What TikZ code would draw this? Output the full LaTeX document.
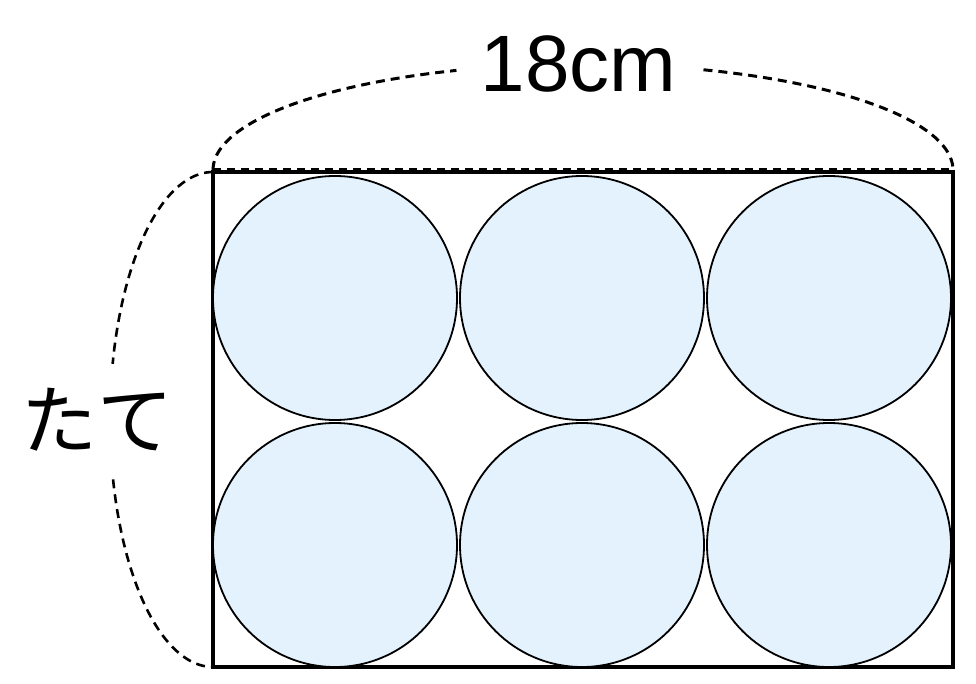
\documentclass[tikz,border=0pt]{standalone}
\usepackage{fontspec}
\setmainfont{Liberation Sans}
\newfontfamily\jpfont{Noto Sans CJK JP}
\definecolor{circfill}{HTML}{E3F2FD}
\begin{document}
\begin{tikzpicture}[x=1pt,y=-1pt,
  disc/.style={circle, draw=black, line width=1.8pt, fill=circfill, minimum size=244pt, inner sep=0pt},
  frame/.style={draw=black, line width=3.5pt},
  brace/.style={draw=black, line width=3pt, dash pattern=on 9pt off 6pt},
  lbl/.style={inner sep=0pt, text=black}]
\useasboundingbox (0,0) rectangle (976,684);
\node[frame, rectangle, minimum width=740pt, minimum height=495pt, inner sep=0pt, outer sep=0pt, anchor=north west] (box) at (213,172) {};
\node[disc] (c11) at (335,298) {};
\node[disc] (c12) at (582,298) {};
\node[disc] (c13) at (829,298) {};
\node[disc] (c21) at (335,545) {};
\node[disc] (c22) at (582,545) {};
\node[disc] (c23) at (829,545) {};
\draw[brace, dash pattern=on 8pt off 6pt] (213,170) -- (953,170);
\draw[brace] plot[smooth, domain=180:250, samples=40] ({583+370*cos(\x)},{170+106*sin(\x)});
\draw[brace] plot[smooth, domain=289:360, samples=40] ({583+370*cos(\x)},{170+106*sin(\x)});
\draw[brace, line width=2.6pt] plot[smooth, domain=270:193, samples=40] ({213+103*cos(\x)},{419.5+247.5*sin(\x)});
\draw[brace, line width=2.6pt] plot[smooth, domain=166:90, samples=40] ({213+103*cos(\x)},{419.5+247.5*sin(\x)});
\node[lbl, anchor=base, font=\fontsize{80}{96}\selectfont] (w) at (578.5,92) {18cm};
\node[lbl, font=\jpfont\fontsize{76}{90}\selectfont] (h) at (97,420) {たて};
\end{tikzpicture}
\end{document}
